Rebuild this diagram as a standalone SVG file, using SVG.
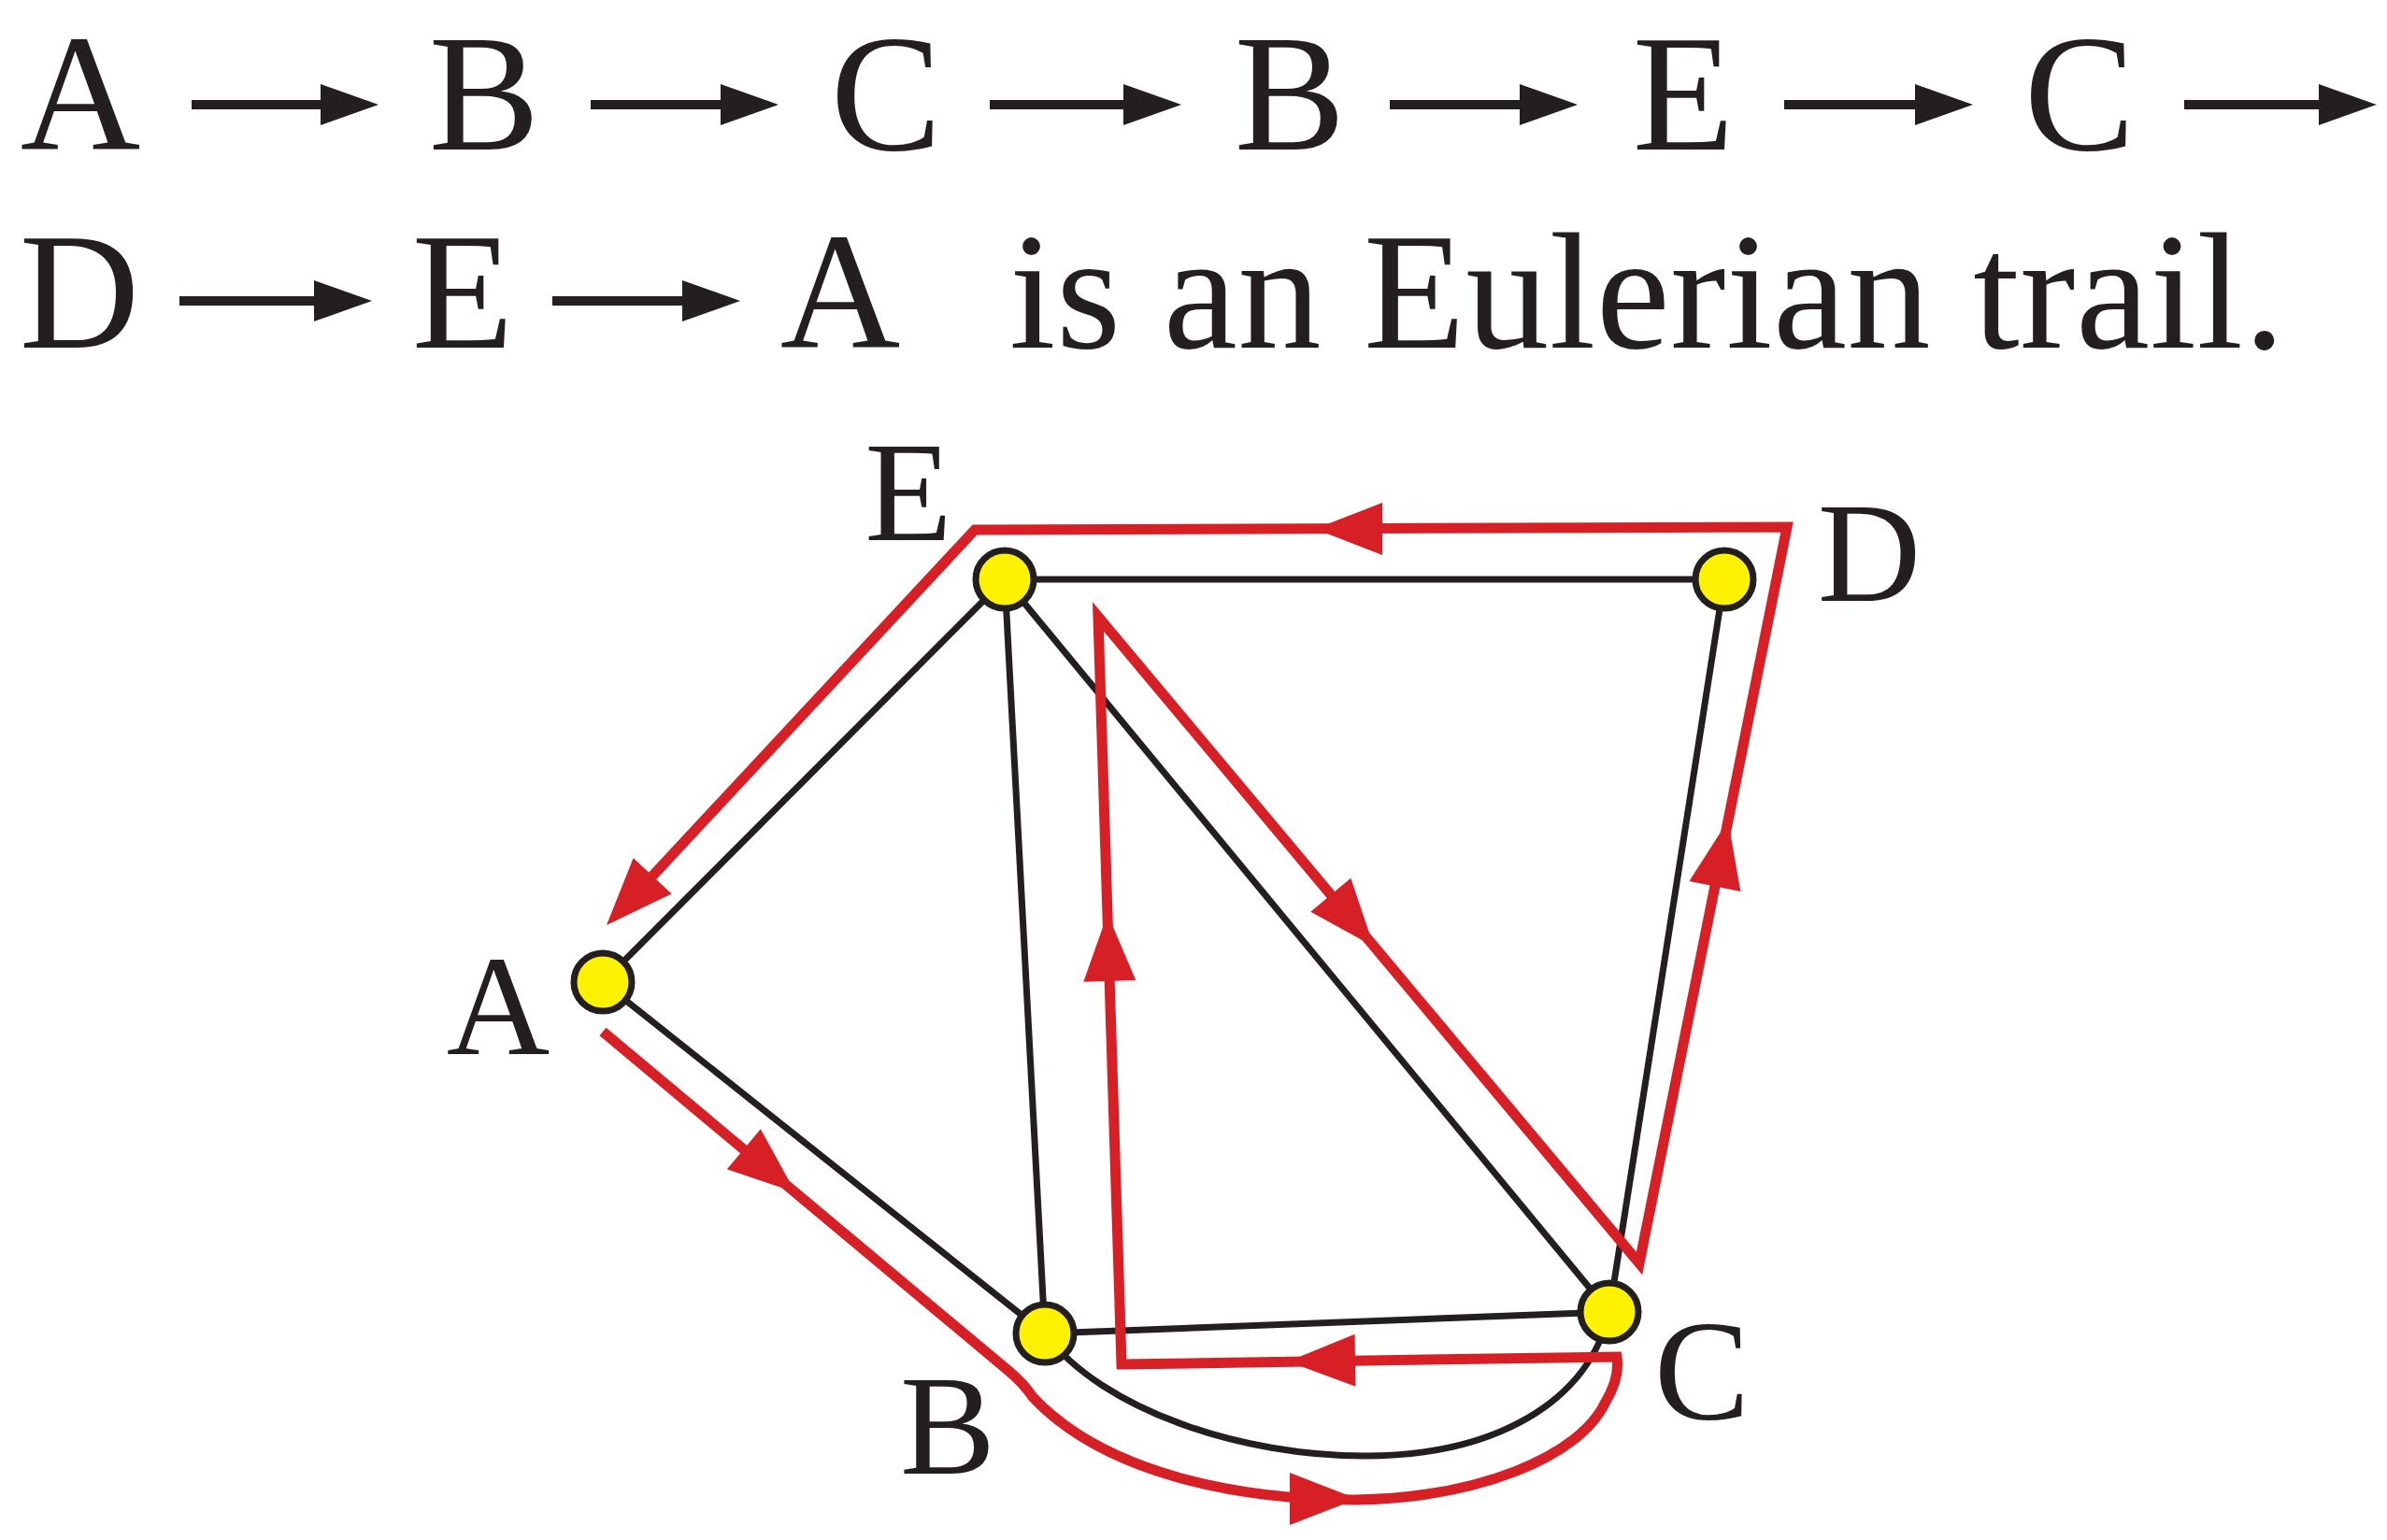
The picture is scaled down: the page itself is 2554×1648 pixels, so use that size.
<svg xmlns="http://www.w3.org/2000/svg" xmlns:xlink="http://www.w3.org/1999/xlink" width="2554" height="1648" viewBox="0 0 2554 1648">
<style>
.t{font-family:"Liberation Serif","Times New Roman",serif;fill:#231f20;}
.big{font-size:178px;}
.lbl{font-size:153px;text-anchor:middle;}
.m{text-anchor:middle;}
.edge{stroke:#231f20;stroke-width:7;fill:none;}
.trail{stroke:#d71f26;stroke-width:11;fill:none;stroke-linejoin:miter;stroke-miterlimit:6;}
.node{fill:#fff200;stroke:#231f20;stroke-width:7;}
.ta{stroke:#231f20;stroke-width:10;}
</style>
<defs>
<path id="rh" d="M0,0 L-72,-28 L-72,28 Z" fill="#d71f26"/>
<path id="bh" d="M0,0 L-62,-22 L-62,22 Z" fill="#231f20"/>
</defs>
<rect width="2554" height="1648" fill="#ffffff"/>

<g id="caption">
<text class="t big m" x="86" y="160">A</text>
<text class="t big m" x="518" y="160">B</text>
<text class="t big m" x="948" y="160">C</text>
<text class="t big m" x="1380" y="160">B</text>
<text class="t big m" x="1801" y="160">E</text>
<text class="t big m" x="2225" y="160">C</text>
<text class="t big m" x="85" y="372">D</text>
<text class="t big m" x="495" y="372">E</text>
<text class="t big m" x="899" y="372">A</text>
<text class="t big" x="1080" y="372" textLength="1365" lengthAdjust="spacing">is an Eulerian trail.</text>
<g id="caption-arrows">
<line class="ta" x1="205" y1="112" x2="350" y2="112"/><use xlink:href="#bh" transform="translate(405,112)"/>
<line class="ta" x1="632" y1="112" x2="780" y2="112"/><use xlink:href="#bh" transform="translate(833,112)"/>
<line class="ta" x1="1059" y1="112" x2="1210" y2="112"/><use xlink:href="#bh" transform="translate(1264,112)"/>
<line class="ta" x1="1487" y1="112" x2="1635" y2="112"/><use xlink:href="#bh" transform="translate(1688,112)"/>
<line class="ta" x1="1909" y1="112" x2="2058" y2="112"/><use xlink:href="#bh" transform="translate(2111,112)"/>
<line class="ta" x1="2337" y1="112" x2="2490" y2="112"/><use xlink:href="#bh" transform="translate(2543,112)"/>
<line class="ta" x1="192" y1="322" x2="345" y2="322"/><use xlink:href="#bh" transform="translate(398,322)"/>
<line class="ta" x1="591" y1="322" x2="740" y2="322"/><use xlink:href="#bh" transform="translate(792,322)"/>
</g>
</g>

<g id="connectors">
<line class="edge" x1="1075" y1="620" x2="1845" y2="620"/>
<line class="edge" x1="1075" y1="620" x2="645" y2="1051"/>
<line class="edge" x1="1075" y1="620" x2="1118" y2="1427"/>
<line class="edge" x1="1075" y1="620" x2="1722" y2="1404"/>
<line class="edge" x1="1845" y1="620" x2="1722" y2="1404"/>
<line class="edge" x1="645" y1="1051" x2="1118" y2="1427"/>
<line class="edge" x1="1118" y1="1427" x2="1722" y2="1404"/>
<path class="edge" d="M1118,1427 C1180,1510 1330,1558 1460,1558 C1600,1558 1700,1500 1722,1404"/>
</g>

<g id="trail">
<path class="trail" d="M645,1104 L1078,1466 Q1095,1480 1105,1495 C1180,1575 1320,1605 1450,1605 C1580,1603 1690,1560 1718,1500 C1730,1480 1732,1465 1730,1452 L1200,1460 L1175,660 L1754,1352 L1912,564 L1043,567 L692,944"/>
<use xlink:href="#rh" transform="translate(851,1276) rotate(40)"/>
<use xlink:href="#rh" transform="translate(1452,1604) rotate(0)"/>
<use xlink:href="#rh" transform="translate(1378,1457) rotate(179)"/>
<use xlink:href="#rh" transform="translate(1185,978) rotate(-91.8)"/>
<use xlink:href="#rh" transform="translate(1470,1013) rotate(50.1)"/>
<use xlink:href="#rh" transform="translate(1849,878) rotate(-78.7)"/>
<use xlink:href="#rh" transform="translate(1407,566) rotate(180)"/>
<use xlink:href="#rh" transform="translate(649,990) rotate(133)"/>
</g>

<g id="node-E"><circle class="node" cx="1075" cy="620" r="31"/><text class="t lbl" x="972" y="578">E</text></g>
<g id="node-D"><circle class="node" cx="1845" cy="620" r="31"/><text class="t lbl" x="2000" y="643">D</text></g>
<g id="node-A"><circle class="node" cx="645" cy="1051" r="31"/><text class="t lbl" x="533" y="1128">A</text></g>
<g id="node-B"><circle class="node" cx="1118" cy="1427" r="31"/><text class="t lbl" x="1014" y="1577">B</text></g>
<g id="node-C"><circle class="node" cx="1722" cy="1404" r="31"/><text class="t lbl" x="1821" y="1519">C</text></g>
</svg>
